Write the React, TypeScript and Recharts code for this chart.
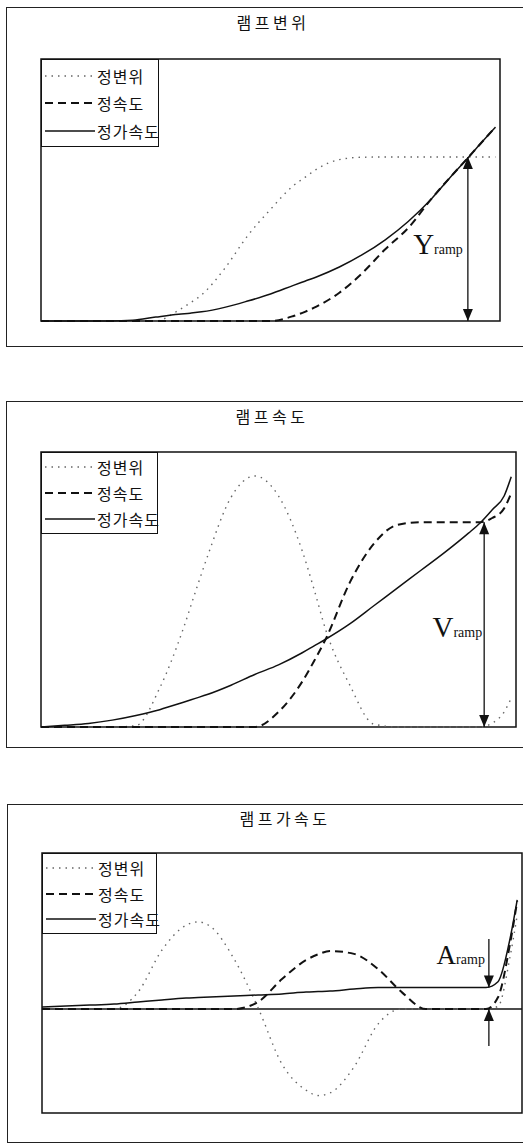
import { LineChart, Line, XAxis, YAxis, Legend, ReferenceArea, ReferenceLine, ReferenceDot } from 'recharts';

// sample positions along the ramp, in percent of the time axis
const rampX = [0, 5, 10, 15, 20, 25, 30, 32.5, 35, 40, 45, 50, 55, 57.5, 60, 65, 70, 75, 80, 85, 90, 92.5, 95, 97.5, 99];

const seriesNames = ['정변위', '정속도', '정가속도'];

// 램프변위
const dispPos = [0, 0, 0, 0, 0, 0, 4.1, 6.9, 10, 20, 32.5, 42.6, 51.7, 54.8, 57.9, 61.6, 62.5, 62.6, 62.6, 62.6, 62.6, 62.6, 62.6, 62.6, 62.6];
const dispVel = [0, 0, 0, 0, 0, 0, 0, 0, 0, 0, 0, 0, 1.9, 3.5, 5.5, 10.8, 18.3, 27.4, 35.5, 46.5, 56.5, 61.3, 66.2, 71.1, 74];
const dispAcc = [0, 0, 0, 0, 0.3, 1.5, 2.6, 3.0, 3.5, 5.2, 7.6, 10.3, 13.6, 15.2, 16.8, 20.6, 25.3, 31, 38, 46.5, 56.5, 61.3, 66.2, 71.1, 74];

// 램프속도
const velPos = [0, 0, 0, 0, 0.5, 14.2, 36, 49.1, 61.8, 83.5, 91.3, 84, 64, 50, 35, 15.3, 1.1, 0, 0, 0, 0, 0, 1.4, 5.5, 10.5];
const velVel = [0, 0, 0, 0, 0, 0, 0, 0, 0, 0, 0, 5.5, 16.5, 24, 32.2, 52.5, 66.5, 73.5, 74.5, 74.5, 74.5, 74.5, 76, 79.5, 85];
const velAcc = [0, 0.6, 1.3, 2.5, 4.2, 6.3, 9, 10.4, 11.8, 15.2, 19.1, 22.6, 27, 29.5, 32, 37.5, 44, 50.5, 57, 63.5, 70.5, 74.3, 79, 84, 91];

// 램프가속도
const accPos = [0, 0, 0, 0, 6.5, 22.7, 32.2, 33.5, 31.9, 19.3, 0.5, -21.2, -31.2, -33.3, -32.3, -22.3, -5.8, 0, 0, 0, 0, 0, 1, 20, 36];
const accVel = [0, 0, 0, 0, 0, 0, 0, 0, 0, 0, 2.7, 11.5, 18.8, 21, 22.3, 21.2, 15.4, 6.4, 0, 0, 0, 0, 4.5, 25, 41.5];
const accAcc = [0.8, 1.2, 1.5, 1.9, 2.7, 3.5, 4.2, 4.4, 4.6, 5, 5.4, 5.8, 6.5, 6.7, 6.9, 7.7, 8.3, 8.3, 8.3, 8.3, 8.3, 8.3, 10.5, 27, 42];

const plateauAt = rampX.indexOf(90);

const toRows = (pos: number[], vel: number[], acc: number[]) =>
  rampX.map((x, i) => ({ x, pos: pos[i], vel: vel[i], acc: acc[i] }));

const KR = "'Noto Sans CJK KR', sans-serif";
const SERIF = "'Liberation Serif', 'DejaVu Serif', serif";
const INK = '#111';
const M = 12;

const lineStyles = {
  pos: { stroke: '#666', strokeWidth: 1.4, strokeDasharray: '1.5 5' },
  vel: { stroke: INK, strokeWidth: 2, strokeDasharray: '8 5' },
  acc: { stroke: INK, strokeWidth: 1.5, strokeDasharray: undefined },
};

const head = (up: boolean) => (p: any) => {
  const { cx, cy } = p;
  const d = up
    ? `M${cx},${cy} L${cx - 5},${cy + 12} L${cx + 5},${cy + 12} Z`
    : `M${cx},${cy} L${cx - 5},${cy - 12} L${cx + 5},${cy - 12} Z`;
  return <path d={d} fill={INK} />;
};

const rampLabel = (sym: string, size: number, dx: number, frac: number) => (props: any) => {
  const vb = props.viewBox || {};
  const x = vb.x ?? 0;
  const y = vb.y ?? 0;
  const h = vb.height ?? 0;
  return (
    <text x={x - dx} y={y + frac * h} textAnchor="end" fontFamily={SERIF} fill={INK}>
      <tspan fontSize={size}>{sym}</tspan>
      <tspan fontSize={14}>ramp</tspan>
    </text>
  );
};

type Arrow = { x: number; y1: number; y2: number; heads: ('start' | 'end')[]; label?: any };

const arrowMarks = (arrows: Arrow[]) =>
  arrows.flatMap((a, k) => {
    const out: any[] = [
      <ReferenceLine
        key={`seg-${k}`}
        segment={[{ x: a.x, y: a.y1 }, { x: a.x, y: a.y2 }]}
        stroke={INK}
        strokeWidth={1.3}
        label={a.label}
      />,
    ];
    if (a.heads.includes('start')) {
      out.push(<ReferenceDot key={`hs-${k}`} x={a.x} y={a.y1} r={5} shape={head(a.y1 > a.y2)} />);
    }
    if (a.heads.includes('end')) {
      out.push(<ReferenceDot key={`he-${k}`} x={a.x} y={a.y2} r={5} shape={head(a.y2 > a.y1)} />);
    }
    return out;
  });

const legendContent = (w: number, h: number) => (props: any) => (
  <div
    style={{
      boxSizing: 'border-box',
      width: w,
      height: h,
      border: `1.5px solid ${INK}`,
      background: '#fff',
      display: 'flex',
      flexDirection: 'column',
      justifyContent: 'space-evenly',
    }}
  >
    {(props.payload || []).map((entry: any) => {
      const st = lineStyles[entry.dataKey as keyof typeof lineStyles];
      return (
        <div key={entry.value} style={{ display: 'flex', alignItems: 'center', height: 24 }}>
          <svg width={54} height={10} style={{ flex: 'none' }}>
            <line x1={3} y1={5} x2={53} y2={5} stroke={st.stroke} strokeWidth={st.strokeWidth} strokeDasharray={st.strokeDasharray} />
          </svg>
          <span style={{ fontFamily: KR, fontSize: 16, letterSpacing: 1, marginLeft: 1, whiteSpace: 'nowrap', color: INK, lineHeight: '18px' }}>
            {entry.value}
          </span>
        </div>
      );
    })}
  </div>
);

type PanelCfg = {
  title: string;
  titleX: number;
  titleY: number;
  frame: { top: number; bottom: number; left: number };
  plot: { left: number; top: number; right: number; bottom: number };
  yDomain: [number, number];
  rows: any[];
  legend: { w: number; h: number };
  zeroLine?: boolean;
  arrows: Arrow[];
};

const panels: PanelCfg[] = [
  {
    title: '램프변위',
    titleX: 273,
    titleY: 22,
    frame: { top: 7, bottom: 347, left: 6 },
    plot: { left: 41, top: 59, right: 500, bottom: 321 },
    yDomain: [0, 100],
    rows: toRows(dispPos, dispVel, dispAcc),
    legend: { w: 118, h: 88 },
    arrows: [{ x: 93, y1: 0, y2: dispPos[plateauAt], heads: ['start', 'end'], label: rampLabel('Y', 29, 5, 0.59) }],
  },
  {
    title: '램프속도',
    titleX: 272,
    titleY: 416,
    frame: { top: 401, bottom: 748, left: 6 },
    plot: { left: 41, top: 452, right: 516, bottom: 727 },
    yDomain: [0, 100],
    rows: toRows(velPos, velVel, velAcc),
    legend: { w: 117, h: 82 },
    arrows: [{ x: 93.3, y1: 0, y2: velVel[plateauAt], heads: ['start', 'end'], label: rampLabel('V', 29, 2, 0.56) }],
  },
  {
    title: '램프가속도',
    titleX: 285,
    titleY: 818,
    frame: { top: 804, bottom: 1143, left: 7 },
    plot: { left: 42, top: 853, right: 522, bottom: 1113 },
    yDomain: [-40, 60],
    rows: toRows(accPos, accVel, accAcc),
    legend: { w: 115, h: 81 },
    zeroLine: true,
    arrows: [
      { x: 93.1, y1: 26.9, y2: accAcc[plateauAt], heads: ['end'], label: rampLabel('A', 27, 4, 0.51) },
      { x: 93.1, y1: -14.2, y2: 0, heads: ['end'] },
    ],
  },
];

function Panel({ cfg }: { cfg: PanelCfg }) {
  const { plot, frame, yDomain } = cfg;
  const w = plot.right - plot.left;
  const h = plot.bottom - plot.top;
  return (
    <>
      <div
        style={{
          position: 'absolute',
          left: frame.left,
          top: frame.top,
          width: 560,
          height: frame.bottom - frame.top,
          boxSizing: 'border-box',
          border: `1.5px solid #222`,
        }}
      />
      <div
        style={{
          position: 'absolute',
          left: cfg.titleX,
          top: cfg.titleY,
          transform: 'translate(-50%, -50%)',
          fontFamily: KR,
          fontSize: 16,
          letterSpacing: 3.5,
          whiteSpace: 'nowrap',
          color: INK,
        }}
      >
        {cfg.title}
      </div>
      <div style={{ position: 'absolute', left: plot.left - M, top: plot.top - M }}>
        <LineChart width={w + 2 * M} height={h + 2 * M} data={cfg.rows} margin={{ top: M, right: M, bottom: M, left: M }}>
          <XAxis type="number" dataKey="x" domain={[0, 100]} hide />
          <YAxis type="number" domain={yDomain} hide />
          <ReferenceArea x1={0} x2={100} y1={yDomain[0]} y2={yDomain[1]} fill="none" stroke={INK} strokeWidth={1.5} fillOpacity={0} />
          {cfg.zeroLine && <ReferenceLine y={0} stroke={INK} strokeWidth={1.5} />}
          {(['pos', 'vel', 'acc'] as const).map((key, i) => (
            <Line
              key={key}
              type="monotone"
              dataKey={key}
              name={seriesNames[i]}
              stroke={lineStyles[key].stroke}
              strokeWidth={lineStyles[key].strokeWidth}
              strokeDasharray={lineStyles[key].strokeDasharray}
              dot={false}
              activeDot={false}
              isAnimationActive={false}
            />
          ))}
          {arrowMarks(cfg.arrows)}
          <Legend
            layout="vertical"
            align="center"
            verticalAlign="middle"
            itemSorter={(item: any) => seriesNames.indexOf(item.value)}
            wrapperStyle={{ left: M, top: M, width: cfg.legend.w, height: cfg.legend.h }}
            content={legendContent(cfg.legend.w, cfg.legend.h)}
          />
        </LineChart>
      </div>
    </>
  );
}

export default function App() {
  return (
    <div style={{ position: 'absolute', left: 0, top: 0, width: 523, height: 1145, overflow: 'hidden', background: '#fff' }}>
      {panels.map((p) => (
        <Panel key={p.title} cfg={p} />
      ))}
    </div>
  );
}
